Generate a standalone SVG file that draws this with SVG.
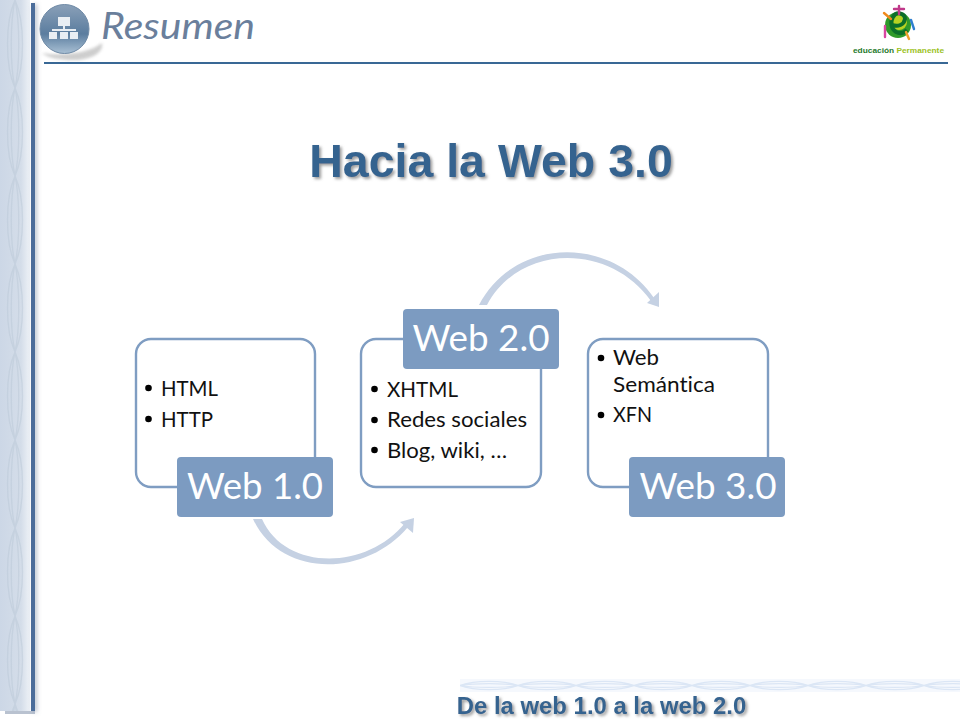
<svg xmlns="http://www.w3.org/2000/svg" width="960" height="720" viewBox="0 0 960 720">
<style>
.box{fill:#fff;stroke:#7f9dc2;stroke-width:2.4}
.lab{fill:#7c9bc1}
.labt{font:37px Lato,"Open Sans",sans-serif;fill:#fff;text-anchor:middle;font-variant-ligatures:none}
.body{font:21.5px Lato,"Open Sans",sans-serif;fill:#111;font-variant-ligatures:none}
.head{font-family:"Liberation Sans",Arial,sans-serif;font-weight:bold;fill:#36638f;text-anchor:middle}
.arc{fill:#c5d1e3}
.w{fill:none;stroke:#b4c2d2;stroke-width:1.4;opacity:.4}
.wf{fill:none;stroke:#dbe6f5;stroke-width:1.2}
</style>
<defs>
<linearGradient id="strip" x1="0" x2="1" y1="0" y2="0"><stop offset="0" stop-color="#ccd7e6"/><stop offset=".7" stop-color="#d4dde9"/><stop offset="1" stop-color="#eef2f7"/></linearGradient>
<linearGradient id="ball" x1="0" y1="0" x2="0" y2="1"><stop offset="0" stop-color="#8aa0b8"/><stop offset=".6" stop-color="#5b7d9f"/><stop offset="1" stop-color="#a9c0d4"/></linearGradient>
<pattern id="wv" width="30" height="88" patternUnits="userSpaceOnUse"><path class="w" d="M15 0C5 22 5 66 15 88M15 0C25 22 25 66 15 88M15 0C10 22 10 66 15 88M15 0C20 22 20 66 15 88"/></pattern>
<pattern id="wh" width="58" height="13" x="460" y="679" patternUnits="userSpaceOnUse"><path class="wf" d="M0 6.5C15 1 43 1 58 6.5M0 6.5C15 12 43 12 58 6.5M0 6.5C15 4 43 4 58 6.5M0 6.5C15 9 43 9 58 6.5"/></pattern>
<filter id="ts" x="-5%" y="-20%" width="110%" height="145%"><feDropShadow dx="2" dy="2" stdDeviation="1.500" flood-color="#7b7b7b" flood-opacity=".75"/></filter>
<filter id="bs" x="-100%" y="-2%" width="400%" height="104%"><feDropShadow dx="2" dy="1" stdDeviation="2" flood-color="#6f7f98" flood-opacity=".5"/></filter>
<filter id="soft"><feGaussianBlur stdDeviation="1.500"/></filter>
<filter id="bl"><feGaussianBlur stdDeviation=".5"/></filter>
</defs>
<rect width="960" height="720" fill="#fff"/>

<g id="decor">
<rect x="0" y="0" width="30" height="711" fill="url(#strip)"/>
<rect x="0" y="0" width="30" height="711" fill="url(#wv)"/>
<rect x="31" y="3" width="4" height="708" fill="#4c6d9a" filter="url(#bs)"/>
<rect x="5" y="711" width="30" height="3" fill="#8c9bb2" opacity=".6" filter="url(#bl)"/>
<rect x="44" y="62" width="904" height="2" fill="#396895"/>
<rect x="460" y="679" width="500" height="13" fill="#f5f8fd"/>
<rect x="460" y="679" width="500" height="13" fill="url(#wh)"/>
</g>

<g id="header-icon">
<path d="M42 53C60 56 88 54 102 43C104 52 92 60 74 60C60 60 48 58 42 53Z" fill="#bdbdbd" opacity=".75" filter="url(#soft)"/>
<circle cx="64.500" cy="29" r="24.500" fill="url(#ball)" stroke="#6f8aa6" stroke-width="1"/>
<g fill="#e9eef3"><rect x="58" y="17" width="12" height="9"/><rect x="52" y="29" width="24" height="2"/><rect x="63" y="25" width="2" height="5"/><rect x="49" y="32" width="8" height="7"/><rect x="60" y="32" width="8" height="7"/><rect x="70" y="32" width="8" height="7"/></g>
</g>
<text id="header-title" x="101" y="39" font-family="Lato,'Liberation Sans',sans-serif" font-style="italic" font-size="36" fill="#6a7f9c" textLength="154" lengthAdjust="spacingAndGlyphs">Resumen</text>

<g id="logo">
<circle cx="898" cy="25" r="13" fill="#2f9a2a"/>
<circle cx="899" cy="22" r="8" fill="#d9e021" opacity=".8"/>
<path d="M892 25c6 2 12 0 13-6 0-6-9-8-12-2-3 5-2 12 3 15 4 2 8 1 11-2" fill="none" stroke="#0c6f2a" stroke-width="4"/>
<g stroke-width="2.400" fill="none" stroke-linecap="round"><path d="M899 6v8M894 9h10" stroke="#c0398a"/><path d="M884 13l7 6" stroke="#f08a1d"/><path d="M885 26v11" stroke="#d846a0"/><path d="M911 20l3 9" stroke="#2e7fd0"/><path d="M906 32l3 7" stroke="#f0a030"/></g>
<text x="853" y="52.500" font-family="'Liberation Sans',sans-serif" font-size="8" font-weight="bold" textLength="91" lengthAdjust="spacingAndGlyphs"><tspan fill="#1f7a2c">educación </tspan><tspan fill="#9cc21f">Permanente</tspan></text>
</g>

<text id="title" class="head" x="491" y="177" font-size="46.500" filter="url(#ts)">Hacia la Web 3.0</text>
<text id="footer" class="head" x="601.500" y="714" font-size="23.900" filter="url(#ts)">De la web 1.0 a la web 2.0</text>

<g id="connectors">
<path class="arc" d="M253 519C280 578 365 578 408 527L405 523C366 571 285 571 262 519Z"/>
<path class="arc" d="M400 522L414 518L413 533Z"/>
<path class="arc" d="M479 305C515 236 612 236 654 298L651 301C610 243 520 243 487 305Z"/>
<path class="arc" d="M647 303L659 292L659 307Z"/>
</g>

<g id="node-web1">
<rect class="box" x="136" y="339" width="179" height="148" rx="15"/>
<rect class="lab" x="177" y="457" width="156" height="60" rx="4"/>
<text class="labt" x="255" y="499" textLength="136" lengthAdjust="spacingAndGlyphs">Web 1.0</text>
<circle cx="148.500" cy="388" r="3.300"/><circle cx="148.500" cy="419" r="3.300"/>
<text class="body" x="161" y="396" textLength="57" lengthAdjust="spacingAndGlyphs">HTML</text>
<text class="body" x="161" y="427" textLength="52" lengthAdjust="spacingAndGlyphs">HTTP</text>
</g>
<g id="node-web2">
<rect class="box" x="361" y="339" width="180" height="148" rx="15"/>
<rect class="lab" x="403" y="309" width="156" height="60" rx="4"/>
<text class="labt" x="481" y="351" textLength="137" lengthAdjust="spacingAndGlyphs">Web 2.0</text>
<circle cx="374.500" cy="389" r="3.300"/><circle cx="374.500" cy="420" r="3.300"/><circle cx="374.500" cy="450" r="3.300"/>
<text class="body" x="387" y="397" textLength="71" lengthAdjust="spacingAndGlyphs">XHTML</text>
<text class="body" x="387" y="427" textLength="140" lengthAdjust="spacingAndGlyphs">Redes sociales</text>
<text class="body" x="387" y="458" textLength="120" lengthAdjust="spacingAndGlyphs">Blog, wiki, …</text>
</g>
<g id="node-web3">
<rect class="box" x="588" y="339" width="180" height="148" rx="15"/>
<rect class="lab" x="629" y="457" width="156" height="60" rx="4"/>
<text class="labt" x="708" y="499" textLength="137" lengthAdjust="spacingAndGlyphs">Web 3.0</text>
<circle cx="601" cy="358" r="3.300"/><circle cx="601" cy="415" r="3.300"/>
<text class="body" x="613" y="365" textLength="46" lengthAdjust="spacingAndGlyphs">Web</text>
<text class="body" x="613" y="392" textLength="102" lengthAdjust="spacingAndGlyphs">Semántica</text>
<text class="body" x="613" y="422" textLength="39" lengthAdjust="spacingAndGlyphs">XFN</text>
</g>
</svg>
